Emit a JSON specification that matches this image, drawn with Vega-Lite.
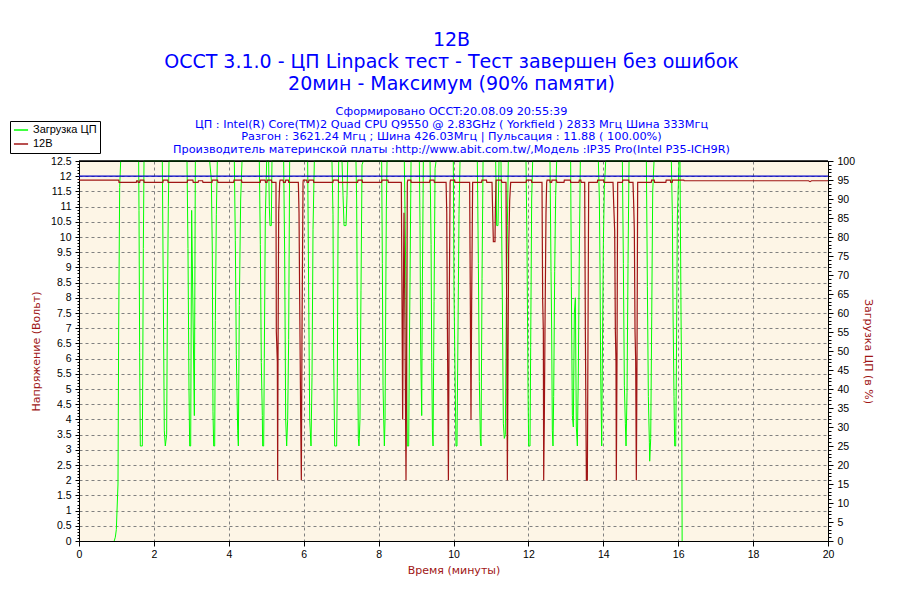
{
  "$schema": "https://vega.github.io/schema/vega-lite/v6.json",
  "width": 749,
  "height": 380,
  "autosize": "none",
  "padding": {"left": 79, "top": 161, "right": 72, "bottom": 59},
  "background": "white",
  "title": {
    "text": ["12В", "OCCT 3.1.0 - ЦП Linpack тест - Тест завершен без ошибок", "20мин - Максимум (90% памяти)"],
    "subtitle": ["Сформировано OCCT:20.08.09 20:55:39", "ЦП : Intel(R) Core(TM)2 Quad CPU Q9550 @ 2.83GHz ( Yorkfield ) 2833 Мгц Шина 333Мгц", "Разгон : 3621.24 Мгц ; Шина 426.03Мгц | Пульсация : 11.88 ( 100.00%)", "Производитель материнской платы :http://www.abit.com.tw/,Модель :IP35 Pro(Intel P35-ICH9R)"],
    "color": "#0000FF",
    "subtitleColor": "#0000FF",
    "font": "DejaVu Sans",
    "fontSize": 19,
    "fontWeight": "normal",
    "lineHeight": 22,
    "subtitleFont": "DejaVu Sans",
    "subtitleFontSize": 11.3,
    "subtitleLineHeight": 12.7,
    "subtitlePadding": 12,
    "anchor": "middle",
    "dx": -2,
    "offset": -35
  },
  "datasets": {
    "load": [
      {"t":0.94,"v":0},{"t":0.97,"v":1},{"t":0.997,"v":3},{"t":1.041,"v":15},{"t":1.059,"v":55},{"t":1.086,"v":93},{"t":1.113,"v":100},
      {"t":1.593,"v":100},{"t":1.602,"v":87},{"t":1.62,"v":49.5},{"t":1.637,"v":25},{"t":1.691,"v":25},{"t":1.7,"v":40},{"t":1.718,"v":77},{"t":1.736,"v":100},
      {"t":2.225,"v":100},{"t":2.252,"v":64},{"t":2.278,"v":29},{"t":2.305,"v":25},{"t":2.341,"v":28},{"t":2.359,"v":60},{"t":2.385,"v":88},{"t":2.403,"v":100},
      {"t":2.884,"v":100},{"t":2.91,"v":77},{"t":2.937,"v":40},{"t":2.955,"v":25},{"t":2.982,"v":25},{"t":3.008,"v":87},{"t":3.044,"v":60},{"t":3.08,"v":33},{"t":3.107,"v":100},
      {"t":3.489,"v":100},{"t":3.534,"v":95},{"t":3.56,"v":76},{"t":3.578,"v":34},{"t":3.596,"v":25},{"t":3.623,"v":25},{"t":3.641,"v":58},{"t":3.667,"v":86},{"t":3.694,"v":100},
      {"t":4.148,"v":100},{"t":4.174,"v":79},{"t":4.201,"v":49},{"t":4.237,"v":29},{"t":4.255,"v":25},{"t":4.281,"v":62},{"t":4.317,"v":90},{"t":4.353,"v":100},
      {"t":4.815,"v":100},{"t":4.842,"v":78},{"t":4.868,"v":47},{"t":4.895,"v":33},{"t":4.904,"v":25},{"t":4.931,"v":25},{"t":4.948,"v":48},{"t":4.975,"v":85},{"t":5.011,"v":100},
      {"t":5.064,"v":100},{"t":5.082,"v":88},{"t":5.1,"v":83},{"t":5.135,"v":83},{"t":5.153,"v":100},
      {"t":5.465,"v":100},{"t":5.492,"v":75},{"t":5.519,"v":32},{"t":5.545,"v":25},{"t":5.572,"v":32},{"t":5.598,"v":53},{"t":5.625,"v":100},
      {"t":6.106,"v":100},{"t":6.133,"v":65},{"t":6.16,"v":32},{"t":6.195,"v":25},{"t":6.222,"v":43},{"t":6.249,"v":82},{"t":6.284,"v":100},
      {"t":6.755,"v":100},{"t":6.782,"v":86},{"t":6.8,"v":48},{"t":6.827,"v":25},{"t":6.88,"v":25},{"t":6.898,"v":43},{"t":6.916,"v":80},{"t":6.934,"v":100},
      {"t":7.023,"v":100},{"t":7.05,"v":91},{"t":7.077,"v":83},{"t":7.13,"v":83},{"t":7.157,"v":91},{"t":7.175,"v":100},
      {"t":7.396,"v":100},{"t":7.414,"v":90},{"t":7.432,"v":59},{"t":7.459,"v":27},{"t":7.476,"v":25},{"t":7.503,"v":32},{"t":7.53,"v":66},{"t":7.557,"v":99},{"t":7.592,"v":100},
      {"t":8.082,"v":100},{"t":8.1,"v":73},{"t":8.118,"v":41},{"t":8.136,"v":32},{"t":8.154,"v":25},{"t":8.172,"v":32},{"t":8.189,"v":60},{"t":8.207,"v":88},{"t":8.225,"v":100},
      {"t":8.687,"v":100},{"t":8.714,"v":80},{"t":8.741,"v":56},{"t":8.767,"v":25},{"t":8.803,"v":25},{"t":8.821,"v":50},{"t":8.839,"v":68},{"t":8.866,"v":100},
      {"t":9.088,"v":100},{"t":9.106,"v":83},{"t":9.124,"v":50},{"t":9.151,"v":33},{"t":9.168,"v":67},{"t":9.195,"v":100},
      {"t":9.374,"v":100},{"t":9.401,"v":78},{"t":9.419,"v":47},{"t":9.437,"v":29},{"t":9.454,"v":25},{"t":9.481,"v":63},{"t":9.508,"v":98},{"t":9.535,"v":100},
      {"t":9.995,"v":100},{"t":10.013,"v":66},{"t":10.04,"v":45},{"t":10.067,"v":25},{"t":10.093,"v":25},{"t":10.12,"v":55},{"t":10.147,"v":86},{"t":10.174,"v":100},
      {"t":10.636,"v":100},{"t":10.664,"v":73},{"t":10.69,"v":42},{"t":10.717,"v":27},{"t":10.735,"v":25},{"t":10.762,"v":69},{"t":10.789,"v":100},
      {"t":11.126,"v":100},{"t":11.153,"v":83},{"t":11.188,"v":83},{"t":11.215,"v":100},{"t":11.268,"v":100},{"t":11.304,"v":64},{"t":11.331,"v":31},{"t":11.357,"v":27},{"t":11.384,"v":28},{"t":11.411,"v":61},{"t":11.438,"v":83},{"t":11.464,"v":100},
      {"t":11.936,"v":100},{"t":11.962,"v":78.5},{"t":11.989,"v":41},{"t":12.007,"v":25},{"t":12.043,"v":25},{"t":12.061,"v":51},{"t":12.087,"v":90},{"t":12.114,"v":100},
      {"t":12.577,"v":100},{"t":12.604,"v":71},{"t":12.621,"v":56},{"t":12.639,"v":29},{"t":12.657,"v":25},{"t":12.675,"v":38},{"t":12.702,"v":71},{"t":12.728,"v":91},{"t":12.755,"v":100},
      {"t":13.128,"v":100},{"t":13.147,"v":67},{"t":13.174,"v":33},{"t":13.2,"v":30},{"t":13.227,"v":60},{"t":13.254,"v":64},{"t":13.28,"v":30},{"t":13.307,"v":25},{"t":13.334,"v":45},{"t":13.36,"v":76},{"t":13.387,"v":100},
      {"t":13.868,"v":100},{"t":13.895,"v":90},{"t":13.913,"v":71.5},{"t":13.93,"v":44},{"t":13.957,"v":25},{"t":13.975,"v":48},{"t":14.002,"v":78.5},{"t":14.028,"v":93},{"t":14.064,"v":100},
      {"t":14.509,"v":100},{"t":14.536,"v":73},{"t":14.562,"v":41},{"t":14.589,"v":31},{"t":14.607,"v":25},{"t":14.634,"v":39},{"t":14.66,"v":73},{"t":14.687,"v":100},
      {"t":15.15,"v":100},{"t":15.177,"v":67},{"t":15.203,"v":38},{"t":15.23,"v":26},{"t":15.239,"v":21},{"t":15.266,"v":27},{"t":15.293,"v":59},{"t":15.319,"v":92},{"t":15.355,"v":100},
      {"t":15.817,"v":100},{"t":15.844,"v":86},{"t":15.862,"v":60},{"t":15.888,"v":38},{"t":15.906,"v":25},{"t":15.933,"v":25},{"t":15.951,"v":45},{"t":15.977,"v":85},{"t":16.022,"v":100},
      {"t":16.048,"v":100},{"t":16.075,"v":60},{"t":16.093,"v":41},{"t":16.105,"v":0}
    ],
    "volt": [
      {"t":0,"v":11.87},{"t":1.06,"v":11.87},{"t":1.07,"v":11.8},
      {"t":1.53,"v":11.8},{"t":1.54,"v":11.85},{"t":1.57,"v":11.85},{"t":1.58,"v":11.8},
      {"t":1.62,"v":11.8},{"t":1.63,"v":11.87},{"t":1.73,"v":11.87},{"t":1.74,"v":11.8},
      {"t":2.24,"v":11.8},{"t":2.25,"v":11.87},{"t":2.37,"v":11.87},{"t":2.38,"v":11.8},
      {"t":2.89,"v":11.8},{"t":2.9,"v":11.87},{"t":3.04,"v":11.87},{"t":3.05,"v":11.8},
      {"t":3.18,"v":11.8},{"t":3.19,"v":11.85},{"t":3.3,"v":11.85},{"t":3.31,"v":11.8},
      {"t":3.55,"v":11.8},{"t":3.56,"v":11.87},{"t":3.7,"v":11.87},{"t":3.71,"v":11.8},
      {"t":4.13,"v":11.8},{"t":4.14,"v":11.87},{"t":4.34,"v":11.87},{"t":4.35,"v":11.8},
      {"t":4.84,"v":11.8},{"t":4.85,"v":11.87},{"t":4.97,"v":11.87},{"t":4.98,"v":11.8},
      {"t":5.02,"v":11.8},{"t":5.03,"v":11.87},{"t":5.14,"v":11.87},{"t":5.15,"v":11.8},
      {"t":5.26,"v":11.8},{"t":5.269,"v":6.9},{"t":5.296,"v":5.9},{"t":5.305,"v":2},{"t":5.314,"v":5.9},{"t":5.332,"v":10.8},{"t":5.358,"v":11.8},
      {"t":5.37,"v":11.87},{"t":5.45,"v":11.87},{"t":5.46,"v":11.8},
      {"t":5.51,"v":11.8},{"t":5.52,"v":11.87},{"t":5.59,"v":11.87},{"t":5.6,"v":11.8},
      {"t":5.857,"v":11.8},{"t":5.875,"v":10.8},{"t":5.893,"v":7.9},{"t":5.92,"v":4},{"t":5.937,"v":2},{"t":5.955,"v":6.9},{"t":5.982,"v":11.8},
      {"t":5.99,"v":11.87},{"t":6.08,"v":11.87},{"t":6.09,"v":11.8},
      {"t":6.13,"v":11.8},{"t":6.14,"v":11.87},{"t":6.26,"v":11.87},{"t":6.27,"v":11.8},
      {"t":6.78,"v":11.8},{"t":6.79,"v":11.87},{"t":6.92,"v":11.87},{"t":6.93,"v":11.8},
      {"t":7.44,"v":11.8},{"t":7.45,"v":11.87},{"t":7.56,"v":11.87},{"t":7.57,"v":11.8},
      {"t":8.08,"v":11.8},{"t":8.09,"v":11.87},{"t":8.25,"v":11.87},{"t":8.26,"v":11.8},
      {"t":8.607,"v":11.8},{"t":8.625,"v":7.9},{"t":8.642,"v":4},{"t":8.66,"v":7.9},{"t":8.678,"v":10.8},{"t":8.705,"v":7},{"t":8.732,"v":2},{"t":8.75,"v":6},{"t":8.767,"v":11.8},
      {"t":8.78,"v":11.87},{"t":8.86,"v":11.87},{"t":8.87,"v":11.8},
      {"t":9.36,"v":11.8},{"t":9.37,"v":11.87},{"t":9.48,"v":11.87},{"t":9.49,"v":11.8},
      {"t":9.802,"v":11.8},{"t":9.82,"v":10.8},{"t":9.838,"v":6.9},{"t":9.864,"v":2},{"t":9.882,"v":6.9},{"t":9.909,"v":11.8},
      {"t":9.92,"v":11.87},{"t":10.03,"v":11.87},{"t":10.04,"v":11.8},
      {"t":10.431,"v":11.8},{"t":10.449,"v":7.9},{"t":10.467,"v":4},{"t":10.485,"v":7.9},{"t":10.511,"v":11.8},
      {"t":10.75,"v":11.8},{"t":10.76,"v":11.87},{"t":10.88,"v":11.87},{"t":10.89,"v":11.8},
      {"t":11.028,"v":11.8},{"t":11.046,"v":10.8},{"t":11.064,"v":9.85},{"t":11.108,"v":9.85},{"t":11.117,"v":10.8},{"t":11.135,"v":11.8},
      {"t":11.14,"v":11.87},{"t":11.28,"v":11.87},{"t":11.29,"v":11.8},
      {"t":11.402,"v":11.8},{"t":11.42,"v":7.6},{"t":11.438,"v":2},{"t":11.455,"v":5.9},{"t":11.473,"v":9.6},{"t":11.5,"v":11.2},{"t":11.527,"v":11.8},
      {"t":11.94,"v":11.8},{"t":11.95,"v":11.87},{"t":12.08,"v":11.87},{"t":12.09,"v":11.8},
      {"t":12.363,"v":11.8},{"t":12.381,"v":7.9},{"t":12.399,"v":6.9},{"t":12.408,"v":2},{"t":12.425,"v":4},{"t":12.443,"v":7},{"t":12.47,"v":10.8},{"t":12.488,"v":11.8},
      {"t":12.5,"v":11.87},{"t":12.57,"v":11.87},{"t":12.58,"v":11.8},
      {"t":12.62,"v":11.8},{"t":12.63,"v":11.87},{"t":12.75,"v":11.87},{"t":12.76,"v":11.8},
      {"t":12.95,"v":11.8},{"t":12.96,"v":11.87},{"t":13.12,"v":11.87},{"t":13.13,"v":11.8},
      {"t":13.35,"v":11.8},{"t":13.36,"v":11.87},{"t":13.4,"v":11.87},{"t":13.41,"v":11.8},
      {"t":13.503,"v":11.8},{"t":13.521,"v":6.9},{"t":13.548,"v":2},{"t":13.574,"v":2},{"t":13.592,"v":6.9},{"t":13.61,"v":11.8},
      {"t":13.84,"v":11.8},{"t":13.85,"v":11.87},{"t":14.01,"v":11.87},{"t":14.02,"v":11.8},
      {"t":14.259,"v":11.8},{"t":14.277,"v":11.1},{"t":14.304,"v":10.2},{"t":14.322,"v":6.9},{"t":14.339,"v":5.9},{"t":14.348,"v":2},{"t":14.366,"v":6},{"t":14.384,"v":11.8},
      {"t":14.51,"v":11.8},{"t":14.52,"v":11.87},{"t":14.68,"v":11.87},{"t":14.69,"v":11.8},
      {"t":14.793,"v":11.8},{"t":14.811,"v":11.1},{"t":14.829,"v":10.2},{"t":14.847,"v":6.9},{"t":14.865,"v":5.9},{"t":14.882,"v":2},{"t":14.9,"v":6},{"t":14.918,"v":11.8},
      {"t":15.28,"v":11.8},{"t":15.29,"v":11.87},{"t":15.36,"v":11.87},{"t":15.37,"v":11.8},
      {"t":15.67,"v":11.8},{"t":15.68,"v":11.87},{"t":15.79,"v":11.87},{"t":15.8,"v":11.8},
      {"t":15.84,"v":11.8},{"t":15.85,"v":11.87},{"t":16.15,"v":11.87},{"t":16.16,"v":11.85},
      {"t":19.48,"v":11.85},{"t":19.52,"v":11.82},{"t":19.56,"v":11.85},{"t":20,"v":11.85}
    ]
  },
  "layer": [
    {
      "data": {"name": "load"},
      "mark": {"type": "line", "strokeWidth": 1, "interpolate": "linear"},
      "encoding": {
        "x": {
          "field": "t", "type": "quantitative",
          "scale": {"domain": [0, 20], "nice": false},
          "axis": {
            "title": "Время (минуты)",
            "values": [0,0.25,0.5,0.75,1,1.25,1.5,1.75,2,2.25,2.5,2.75,3,3.25,3.5,3.75,4,4.25,4.5,4.75,5,5.25,5.5,5.75,6,6.25,6.5,6.75,7,7.25,7.5,7.75,8,8.25,8.5,8.75,9,9.25,9.5,9.75,10,10.25,10.5,10.75,11,11.25,11.5,11.75,12,12.25,12.5,12.75,13,13.25,13.5,13.75,14,14.25,14.5,14.75,15,15.25,15.5,15.75,16,16.25,16.5,16.75,17,17.25,17.5,17.75,18,18.25,18.5,18.75,19,19.25,19.5,19.75,20],
            "labelExpr": "datum.value % 1 === 0 ? toString(datum.value) : ''",
            "tickSize": {"condition": {"test": "datum.value % 1 === 0", "value": 5}, "value": 3},
            "grid": true,
            "gridOpacity": {"condition": {"test": "datum.value % 1 === 0 && datum.value > 0 && datum.value < 20", "value": 1}, "value": 0},
            "labelPadding": 3,
            "titlePadding": 5
          }
        },
        "y": {
          "field": "v", "type": "quantitative",
          "scale": {"domain": [0, 100], "nice": false},
          "axis": {
            "orient": "right",
            "title": "Загрузка ЦП (в %)",
            "values": [0,1,2,3,4,5,6,7,8,9,10,11,12,13,14,15,16,17,18,19,20,21,22,23,24,25,26,27,28,29,30,31,32,33,34,35,36,37,38,39,40,41,42,43,44,45,46,47,48,49,50,51,52,53,54,55,56,57,58,59,60,61,62,63,64,65,66,67,68,69,70,71,72,73,74,75,76,77,78,79,80,81,82,83,84,85,86,87,88,89,90,91,92,93,94,95,96,97,98,99,100],
            "labelExpr": "datum.value % 5 === 0 ? toString(datum.value) : ''",
            "tickSize": {"condition": {"test": "datum.value % 5 === 0", "value": 5}, "value": 3},
            "grid": false,
            "labelPadding": 4,
            "titlePadding": 8
          }
        },
        "color": {
          "datum": "Загрузка ЦП", "type": "nominal",
          "scale": {"domain": ["Загрузка ЦП", "12В"], "range": ["#00FF00", "#A01515"]},
          "legend": {
            "title": null,
            "orient": "none",
            "legendX": -69,
            "legendY": -40,
            "symbolType": "stroke",
            "symbolSize": 200,
            "symbolStrokeWidth": 1.5,
            "strokeColor": "black",
            "fillColor": "white",
            "padding": 3,
            "rowPadding": 2,
            "clipHeight": 12,
            "labelFont": "Liberation Sans",
            "labelFontSize": 11,
            "labelColor": "black",
            "labelOffset": 4
          }
        }
      }
    },
    {
      "data": {"name": "volt"},
      "mark": {"type": "line", "strokeWidth": 1.2, "interpolate": "linear"},
      "encoding": {
        "x": {"field": "t", "type": "quantitative", "scale": {"domain": [0, 20], "nice": false}},
        "y": {
          "field": "v", "type": "quantitative",
          "scale": {"domain": [0, 12.5], "nice": false},
          "axis": {
            "orient": "left",
            "title": "Напряжение (Вольт)",
            "values": [0,0.1,0.2,0.3,0.4,0.5,0.6,0.7,0.8,0.9,1,1.1,1.2,1.3,1.4,1.5,1.6,1.7,1.8,1.9,2,2.1,2.2,2.3,2.4,2.5,2.6,2.7,2.8,2.9,3,3.1,3.2,3.3,3.4,3.5,3.6,3.7,3.8,3.9,4,4.1,4.2,4.3,4.4,4.5,4.6,4.7,4.8,4.9,5,5.1,5.2,5.3,5.4,5.5,5.6,5.7,5.8,5.9,6,6.1,6.2,6.3,6.4,6.5,6.6,6.7,6.8,6.9,7,7.1,7.2,7.3,7.4,7.5,7.6,7.7,7.8,7.9,8,8.1,8.2,8.3,8.4,8.5,8.6,8.7,8.8,8.9,9,9.1,9.2,9.3,9.4,9.5,9.6,9.7,9.8,9.9,10,10.1,10.2,10.3,10.4,10.5,10.6,10.7,10.8,10.9,11,11.1,11.2,11.3,11.4,11.5,11.6,11.7,11.8,11.9,12,12.1,12.2,12.3,12.4,12.5],
            "labelExpr": "abs(datum.value*2 - round(datum.value*2)) < 0.001 ? toString(round(datum.value*10)/10) : ''",
            "tickSize": {"condition": {"test": "abs(datum.value*2 - round(datum.value*2)) < 0.001", "value": 4}, "value": 2},
            "grid": true,
            "gridOpacity": {"condition": {"test": "abs(datum.value*2 - round(datum.value*2)) < 0.001 && datum.value > 0 && datum.value < 12.5", "value": 1}, "value": 0},
            "labelPadding": 4,
            "titlePadding": 9
          }
        },
        "color": {"datum": "12В", "type": "nominal"}
      }
    },
    {
      "data": {"values": [{}]},
      "mark": {"type": "rule", "color": "#0000CC", "strokeWidth": 1.2},
      "encoding": {
        "y": {"datum": 12, "type": "quantitative", "scale": {"domain": [0, 12.5], "nice": false}, "axis": null}
      }
    },
    {
      "data": {"values": [{}]},
      "mark": {"type": "rule", "color": "black", "strokeWidth": 1.5},
      "encoding": {
        "y": {"datum": 12.5, "type": "quantitative", "scale": {"domain": [0, 12.5], "nice": false}, "axis": null}
      }
    }
  ],
  "resolve": {"scale": {"y": "independent"}},
  "config": {
    "view": {"fill": "#FDF5E6", "stroke": "black", "strokeWidth": 1},
    "axis": {
      "domainColor": "black",
      "domainWidth": 1,
      "tickColor": "black",
      "labelColor": "black",
      "labelFont": "Liberation Sans",
      "labelFontSize": 10.5,
      "labelOverlap": false,
      "labelFlush": false,
      "labelBound": false,
      "titleColor": "#A01515",
      "titleFont": "DejaVu Sans",
      "titleFontSize": 11,
      "titleFontWeight": "normal",
      "gridColor": "#808080",
      "gridDash": [3, 3],
      "gridWidth": 1
    }
  }
}
